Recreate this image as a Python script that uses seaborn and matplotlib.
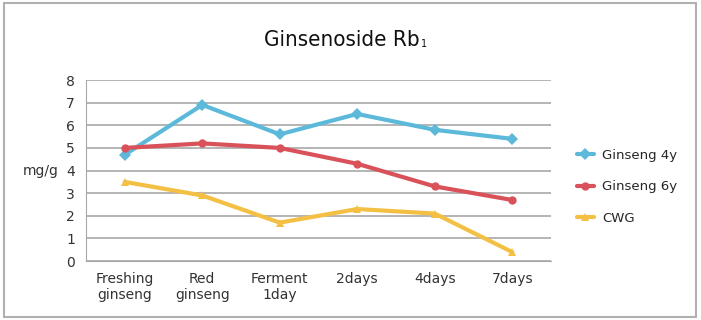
import pandas as pd
import matplotlib.pyplot as plt
import seaborn as sns
from matplotlib.patches import Rectangle

categories = ['Freshing\nginseng', 'Red\nginseng', 'Ferment\n1day', '2days', '4days', '7days']
ginseng_4y = [4.7, 6.9, 5.6, 6.5, 5.8, 5.4]
ginseng_6y = [5.0, 5.2, 5.0, 4.3, 3.3, 2.7]
cwg = [3.5, 2.9, 1.7, 2.3, 2.1, 0.4]
series_names = ['Ginseng 4y', 'Ginseng 6y', 'CWG']

df = pd.DataFrame({
    'x': list(range(len(categories))) * 3,
    'value': ginseng_4y + ginseng_6y + cwg,
    'series': [n for n in series_names for _ in categories],
})

sns.set_style('white')
plt.rcParams['font.family'] = ['DejaVu Sans']

fig = plt.figure(figsize=(7.01, 3.2), dpi=100)
ax = fig.add_axes([0.1227, 0.184, 0.6633, 0.566])

palette = {'Ginseng 4y': '#5cb9da', 'Ginseng 6y': '#d9525a', 'CWG': '#f4c043'}
markers = {'Ginseng 4y': 'D', 'Ginseng 6y': 'o', 'CWG': '^'}
sns.lineplot(data=df, x='x', y='value', hue='series', style='series',
             palette=palette, markers=markers, dashes=False, linewidth=3,
             markersize=6, markeredgewidth=0, ax=ax)

ax.set_xlim(-0.5, 5.5)
ax.set_ylim(0, 8)
ax.set_yticks(range(0, 9))
ax.set_xticks(range(len(categories)))
ax.set_xticklabels(categories, fontsize=10, color='#333333')
ax.tick_params(axis='y', labelsize=10, colors='#333333', length=0, pad=8)
ax.tick_params(axis='x', length=0, pad=8)
ax.grid(axis='y', color='#a8a8a8', linewidth=1.2)
for s in ['top', 'right']:
    ax.spines[s].set_visible(False)
ax.spines['left'].set_color('#a8a8a8')
ax.spines['bottom'].set_color('#a8a8a8')
ax.set_xlabel('')
ax.set_ylabel('mg/g', rotation=0, fontsize=10, color='#333333', labelpad=18, va='center')

ax.legend(loc='center left', bbox_to_anchor=(1.03, 0.41), frameon=False,
          fontsize=9.5, handlelength=1.3, handletextpad=0.6, labelspacing=1.4)

fig.text(0.598, 0.875, 'Ginsenoside Rb', ha='right', va='center',
         fontsize=16, family='DejaVu Sans', fontstretch='condensed',
         color='#111111')
fig.text(0.600, 0.862, '1', ha='left', va='center', fontsize=7,
         family='DejaVu Sans', color='#111111')

fig.patches.append(Rectangle((0.005, 0.01), 0.988, 0.98, transform=fig.transFigure,
                             fill=False, edgecolor='#b0b0b0', linewidth=1.5))

fig.savefig('out.png', dpi=100)
